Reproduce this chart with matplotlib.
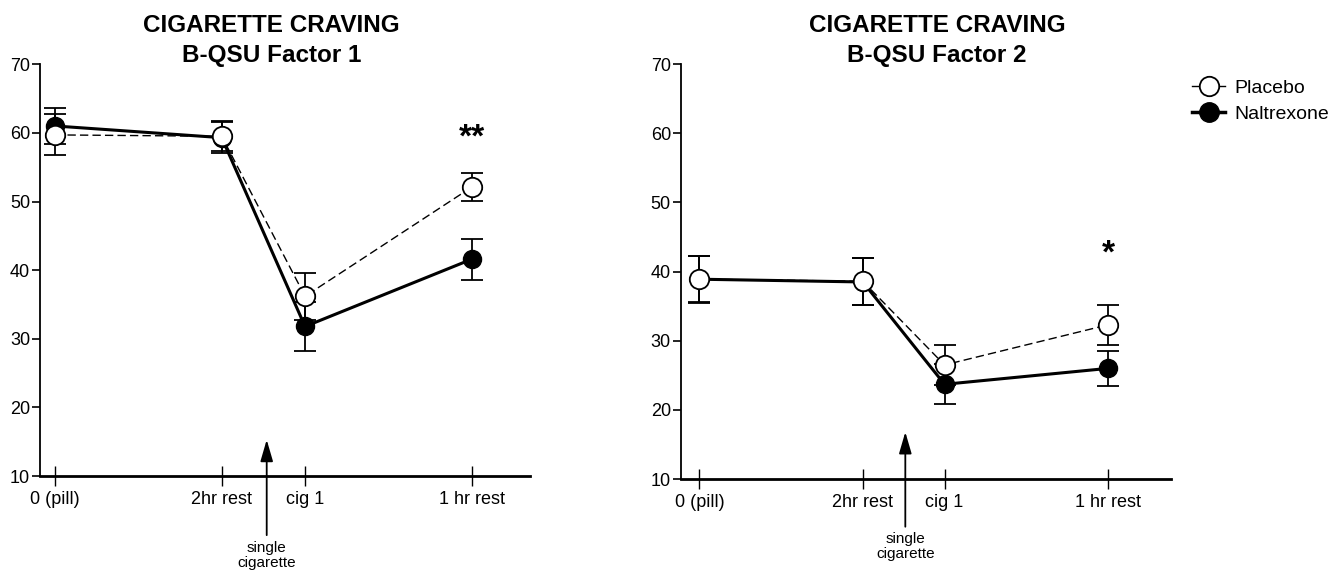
import matplotlib.pyplot as plt
from matplotlib.lines import Line2D

plt.rcParams['font.family'] = ['Liberation Sans', 'DejaVu Sans']

# time points (x positions) and labels
times = [0, 2, 3, 5]
time_labels = ['0 (pill)', '2hr rest', 'cig 1', '1 hr rest']

# Factor 1
f1_placebo = [59.7, 59.5, 36.2, 52.1]
f1_placebo_err = [3.0, 2.2, 3.4, 2.0]
f1_naltrexone = [61.0, 59.3, 31.8, 41.6]
f1_naltrexone_err = [2.6, 2.3, 3.6, 3.0]

# Factor 2
f2_placebo = [38.9, 38.6, 26.5, 32.3]
f2_placebo_err = [3.3, 3.4, 2.9, 2.9]
f2_naltrexone = [38.9, 38.5, 23.7, 26.0]
f2_naltrexone_err = [3.4, 3.4, 2.9, 2.5]

fig = plt.figure(figsize=(13.32, 5.73), dpi=100)
ax1 = fig.add_axes([0.030, 0.169, 0.368, 0.719])
ax2 = fig.add_axes([0.511, 0.164, 0.368, 0.724])


def draw_panel(ax, title_x, subtitle, plc, plc_err, nal, nal_err, star, star_y,
               arrow_x, arrow_tip, text_y, xlim):
    ax.errorbar(times, nal, yerr=nal_err, color='black', lw=2.2, marker='o', ms=13,
                mfc='black', mec='black', capsize=8, capthick=1.3, elinewidth=1.3, zorder=2)
    ax.errorbar(times, plc, yerr=plc_err, color='black', lw=1, ls='--', dashes=(6, 3),
                marker='o', ms=14, mfc='white', mec='black', mew=1.3,
                capsize=8, capthick=1.3, elinewidth=1.3, zorder=3)
    ax.set_xlim(*xlim)
    ax.set_ylim(10, 70)
    ax.set_yticks([10, 20, 30, 40, 50, 60, 70])
    ax.set_xticks(times)
    ax.set_xticklabels(time_labels)
    ax.tick_params(axis='y', direction='out', length=6, width=1.2, labelsize=13, pad=1)
    ax.tick_params(axis='x', direction='inout', length=14, width=1, labelsize=13, pad=4)
    for s in ['top', 'right']:
        ax.spines[s].set_visible(False)
    ax.spines['left'].set_linewidth(1.3)
    ax.spines['bottom'].set_linewidth(2)
    fig.text(title_x, 0.955, 'CIGARETTE CRAVING', ha='center', va='center',
             fontsize=17.5, fontweight='bold')
    fig.text(title_x, 0.904, subtitle, ha='center', va='center',
             fontsize=17.5, fontweight='bold')
    ax.text(times[3], star_y, star, ha='center', va='center', fontsize=24, fontweight='bold')
    ax.annotate('single\ncigarette', xy=(arrow_x, arrow_tip), xytext=(arrow_x, text_y),
                ha='center', va='top', fontsize=11, annotation_clip=False, linespacing=1.1,
                arrowprops=dict(arrowstyle='-|>,head_length=1.2,head_width=0.35',
                                color='black', lw=1.3, shrinkA=2, shrinkB=0))


draw_panel(ax1, 0.204, 'B-QSU Factor 1', f1_placebo, f1_placebo_err,
           f1_naltrexone, f1_naltrexone_err, '**', 59.3, 2.54, 15.3, 0.6, (-0.18, 5.7))
draw_panel(ax2, 0.7035, 'B-QSU Factor 2', f2_placebo, f2_placebo_err,
           f2_naltrexone, f2_naltrexone_err, '*', 42.5, 2.52, 16.8, 2.3, (-0.23, 5.77))

handles = [
    Line2D([], [], color='black', lw=1, marker='o', ms=14, mfc='white', mec='black', mew=1.3),
    Line2D([], [], color='black', lw=2.5, marker='o', ms=14, mfc='black', mec='black'),
]
fig.legend(handles, ['Placebo', 'Naltrexone'], loc='upper left', bbox_to_anchor=(0.895, 0.862),
           frameon=False, fontsize=14, handlelength=1.7, handletextpad=0.45, labelspacing=0.45,
           borderpad=0, borderaxespad=0)

fig.savefig('out.png', dpi=100)
